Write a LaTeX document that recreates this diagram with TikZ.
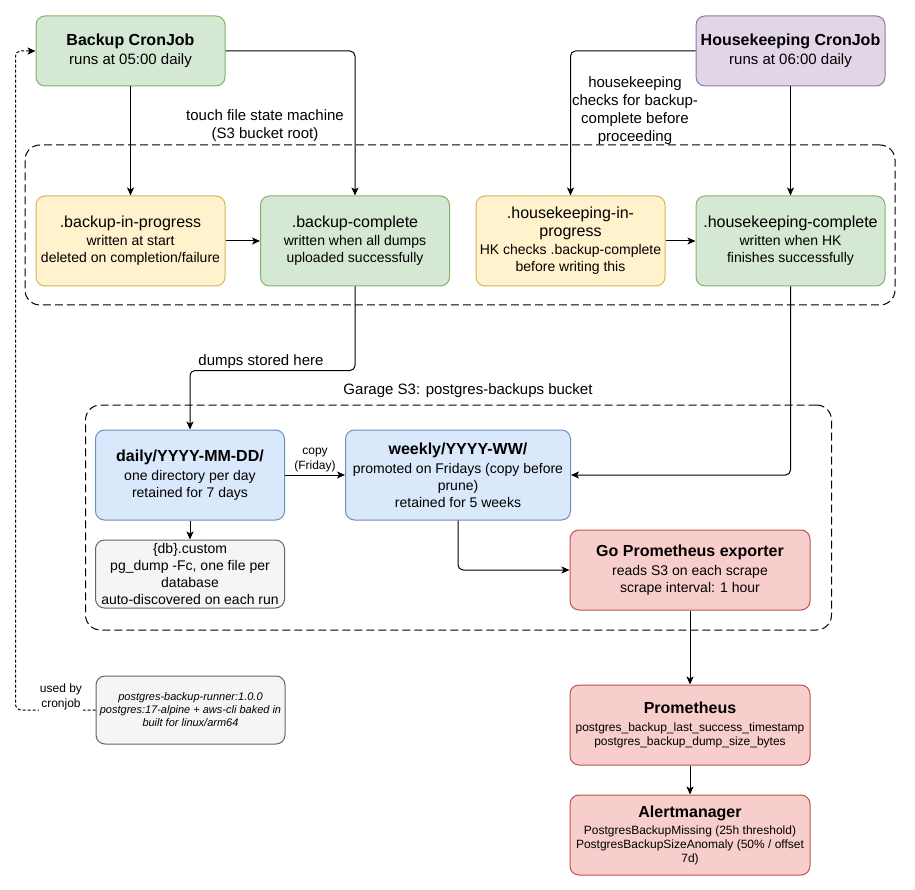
\documentclass[tikz,border=0pt]{standalone}
\usepackage{fontspec}
\setmainfont{Liberation Sans}
\usetikzlibrary{arrows.meta}

\definecolor{grnfill}{HTML}{D5E8D4}\definecolor{grnline}{HTML}{82B366}
\definecolor{yelfill}{HTML}{FFF2CC}\definecolor{yelline}{HTML}{D6B656}
\definecolor{purfill}{HTML}{E1D5E7}\definecolor{purline}{HTML}{9673A6}
\definecolor{blufill}{HTML}{DAE8FC}\definecolor{bluline}{HTML}{6C8EBF}
\definecolor{redfill}{HTML}{F8CECC}\definecolor{redline}{HTML}{B85450}
\definecolor{gryfill}{HTML}{F5F5F5}\definecolor{gryline}{HTML}{666666}

\newcommand\boxttl[1]{{\bfseries\fontsize{16}{19}\selectfont #1}}
\newcommand\boxhd[1]{{\fontsize{16}{19}\selectfont #1}}

\begin{document}
\begin{tikzpicture}[x=1pt, y=-1pt, line width=1pt,
    font=\fontsize{14}{17}\selectfont,
    box/.style={draw, rounded corners=9pt, align=center, inner sep=1pt,
                minimum width=189pt, minimum height=90pt},
    cron/.style={minimum height=70pt, font=\fontsize{15}{17}\selectfont},
    grnbox/.style={box, fill=grnfill, draw=grnline},
    yelbox/.style={box, fill=yelfill, draw=yelline},
    purbox/.style={box, fill=purfill, draw=purline},
    blubox/.style={box, fill=blufill, draw=bluline},
    redbox/.style={box, fill=redfill, draw=redline, minimum width=240pt, minimum height=80pt},
    grybox/.style={box, fill=gryfill, draw=gryline, minimum height=68pt},
    grp/.style={draw, dash pattern=on 8pt off 4pt, rounded corners=15pt},
    arr/.style={-{Stealth[length=8pt, width=7pt, inset=2pt]}, rounded corners=5pt},
    lbl/.style={align=center, inner sep=1pt, font=\fontsize{15}{18}\selectfont},
    small/.style={align=center, inner sep=1pt, font=\fontsize{12}{14.5}\selectfont},
  ]
    \useasboundingbox (0,0) rectangle (915,890);

    % touch files (S3 bucket root)
    \node[grp, minimum width=870pt, minimum height=160pt] (touchgrp) at (460,225) {};
    \node[lbl] (touchlbl) at (265,126) {touch file state machine\\(S3 bucket root)};

    % Garage S3 bucket
    \node[grp, minimum width=746pt, minimum height=225pt] (garage) at (458.5,517.5) {};
    \node[lbl] (garagelbl) at (468,391) {Garage S3: postgres-backups bucket};

    % cronjobs
    \node[grnbox, cron] (backup) at (130.5,51) {\boxttl{Backup CronJob}\\[2pt]runs at 05:00 daily};
    \node[purbox, cron] (hk) at (790.5,51) {\boxttl{Housekeeping CronJob}\\[2pt]runs at 06:00 daily};

    \node[yelbox] (bprog) at (130.5,241)
      {\boxhd{.backup-in-progress}\\[1pt]written at start\\deleted on completion/failure};
    \node[grnbox] (bdone) at (355,241)
      {\boxhd{.backup-complete}\\[1pt]written when all dumps\\uploaded successfully};
    \node[yelbox] (hkprog) at (570.5,241)
      {\boxhd{.housekeeping-in-}\\[1pt]\boxhd{progress}\\[1pt]HK checks .backup-complete\\before writing this};
    \node[grnbox] (hkdone) at (790.5,241)
      {\boxhd{.housekeeping-complete}\\[1pt]written when HK\\finishes successfully};

    % bucket contents
    \node[blubox] (daily) at (190,475)
      {\boxttl{daily/YYYY-MM-DD/}\\[2pt]one directory per day\\retained for 7 days};
    \node[blubox, minimum width=225pt] (weekly) at (458,475)
      {\boxttl{weekly/YYYY-WW/}\\[2pt]promoted on Fridays (copy before\\prune)\\retained for 5 weeks};
    \node[grybox] (dbfile) at (190,574)
      {\{db\}.custom\\pg\_dump -Fc, one file per\\database\\auto-discovered on each run};

    % monitoring
    \node[redbox] (exporter) at (690,570)
      {\boxttl{Go Prometheus exporter}\\[2pt]reads S3 on each scrape\\scrape interval: 1 hour};
    \node[redbox, font=\fontsize{12}{14.3}\selectfont] (prom) at (690,725)
      {\boxttl{Prometheus}\\[3pt]postgres\_backup\_last\_success\_timestamp\\postgres\_backup\_dump\_size\_bytes};
    \node[redbox, font=\fontsize{12}{14}\selectfont] (alert) at (690,835)
      {\boxttl{Alertmanager}\\[3pt]PostgresBackupMissing (25h threshold)\\PostgresBackupSizeAnomaly (50\% / offset\\7d)};

    % image
    \node[grybox, font=\itshape\fontsize{11}{13}\selectfont] (runner) at (190.5,710)
      {postgres-backup-runner:1.0.0\\postgres:17-alpine + aws-cli baked in\\built for linux/arm64};

    % flechas
    \draw[arr] (backup.south) -- (bprog.north);
    \draw[arr] (backup.east) -| (bdone.north);
    \draw[arr] (hk.west) -| (hkprog.north);
    \node[lbl] (hklbl) at (635,111) {housekeeping\\checks for backup-\\complete before\\proceeding};
    \draw[arr] (hk.south) -- (hkdone.north);
    \draw[arr] (bprog.east) -- (bdone.west);
    \draw[arr] (hkprog.east) -- (hkdone.west);

    \draw[arr] (bdone.south) -- ++(0,84) -| (daily.north);
    \node[lbl, fill=white] (dumpslbl) at (261,362) {dumps stored here};
    \draw[arr] (daily.east) -- node[small, above=2pt] (copylbl) {copy\\(Friday)} (weekly.west);
    \draw[arr] (daily.south) -- (dbfile.north);
    \draw[arr] (hkdone.south) |- (weekly.east);
    \draw[arr] (weekly.south) |- (exporter.west);
    \draw[arr] (exporter.south) -- (prom.north);
    \draw[arr] (prom.south) -- (alert.north);

    \draw[arr, dash pattern=on 3pt off 2pt] (runner.west) -- ++(-80,0) |- (backup.west);
    \node[small, fill=white] (usedlbl) at (61,697) {used by\\cronjob};
\end{tikzpicture}
\end{document}
